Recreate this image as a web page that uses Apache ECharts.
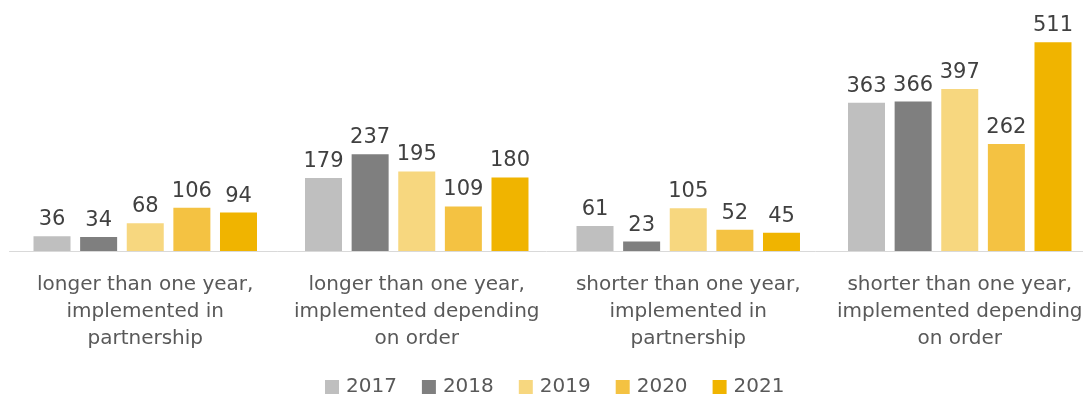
<!DOCTYPE html>
<html>
<head>
<meta charset="utf-8">
<style>
  html, body { margin: 0; padding: 0; background: #ffffff; }
  #chart { width: 1083px; height: 396px; }
</style>
<script src="https://cdn.jsdelivr.net/npm/echarts@6/dist/echarts.min.js"></script>
</head>
<body>
<div id="chart"></div>
<script>
// Project types (category axis)
const categories = [
  'longer than one year,\nimplemented in\npartnership',
  'longer than one year,\nimplemented depending\non order',
  'shorter than one year,\nimplemented in\npartnership',
  'shorter than one year,\nimplemented depending\non order'
];

// Number of projects per year
const years = ['2017', '2018', '2019', '2020', '2021'];
const values2017 = [36, 179, 61, 363];
const values2018 = [34, 237, 23, 366];
const values2019 = [68, 195, 105, 397];
const values2020 = [106, 109, 52, 262];
const values2021 = [94, 180, 45, 511];

const seriesValues = [values2017, values2018, values2019, values2020, values2021];
const colors = ['#BFBFBF', '#7F7F7F', '#F7D77F', '#F4C242', '#F0B400'];

const FONT = 'DejaVu Sans';

const chart = echarts.init(document.getElementById('chart'), null, { renderer: 'canvas' });

chart.setOption({
  animation: false,
  textStyle: { fontFamily: FONT },
  grid: {
    left: 9.5, width: 1086, top: 6, bottom: 145,
    containLabel: false,
    outerBoundsMode: 'none'
  },
  legend: {
    top: 372,
    left: 320,
    itemWidth: 14,
    itemHeight: 14,
    itemGap: 25,
    icon: 'rect',
    textStyle: { fontFamily: FONT, fontSize: 20, color: '#595959', padding: [0, 0, 0, 2] },
    data: years
  },
  xAxis: {
    type: 'category',
    data: categories,
    axisLine: { lineStyle: { color: '#D9D9D9', width: 1 } },
    axisTick: { show: false },
    axisLabel: {
      interval: 0,
      margin: 20,
      fontFamily: FONT,
      fontSize: 20,
      lineHeight: 27,
      color: '#595959',
      align: 'center',
      hideOverlap: false
    }
  },
  yAxis: {
    type: 'value',
    min: 0,
    max: 600,
    show: false,
    splitLine: { show: false }
  },
  series: years.map((y, i) => ({
    name: y,
    type: 'bar',
    data: seriesValues[i],
    barWidth: 37,
    barGap: '26%',
    itemStyle: { color: colors[i] },
    label: {
      show: true,
      position: 'top',
      distance: 6,
      fontFamily: FONT,
      fontSize: 21,
      color: '#404040'
    }
  }))
});
</script>
</body>
</html>
